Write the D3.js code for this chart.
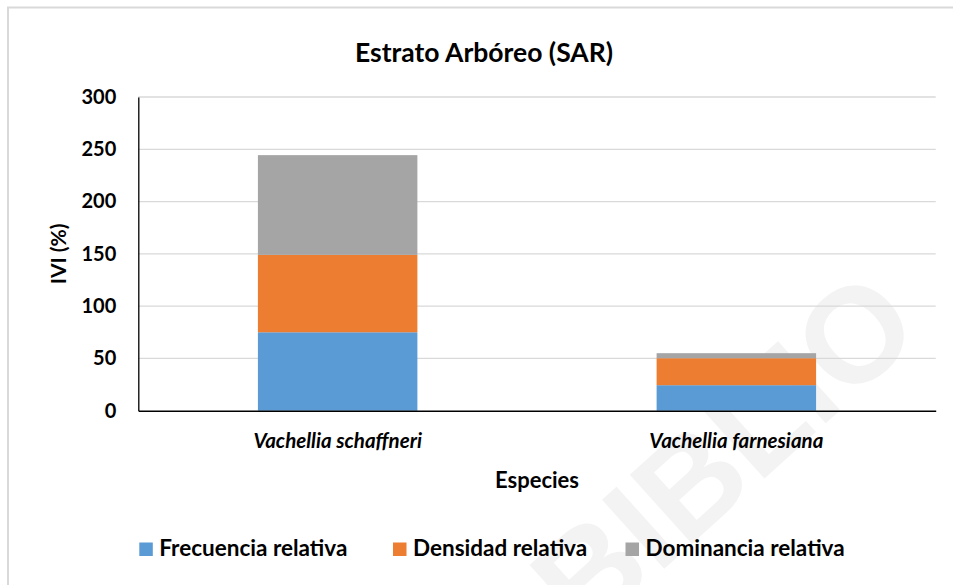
<!DOCTYPE html>
<html>
<head>
<meta charset="utf-8">
<script src="https://cdn.jsdelivr.net/npm/d3@7"></script>
<style>
  html, body { margin: 0; padding: 0; background: #ffffff; }
  svg { display: block; }
  text { font-family: Lato, "Open Sans", sans-serif; font-weight: 700; fill: #000; }
</style>
</head>
<body>
<svg id="chart" width="953" height="585"></svg>
<script>
// Importance value index (IVI) per species, tree stratum
const species = ["Vachellia schaffneri", "Vachellia farnesiana"];
const frecuencia = [75.0, 24.4];
const densidad = [74.0, 25.8];
const dominancia = [95.4, 4.8];
const seriesNames = ["Frecuencia relativa", "Densidad relativa", "Dominancia relativa"];
const seriesColors = ["#5b9bd5", "#ed7d31", "#a5a5a5"];
const yTicks = [0, 50, 100, 150, 200, 250, 300];

const svg = d3.select("#chart");
const W = 953, H = 585;

svg.append("rect").attr("width", W).attr("height", H).attr("fill", "#fff");

// faint diagonal watermark
svg.append("text")
  .attr("transform", "translate(585,640) rotate(-42)")
  .attr("font-size", 135)
  .style("fill", "#f3f3f3")
  .style("font-family", "'Liberation Sans', sans-serif")
  .style("font-weight", 700)
  .text("BIBLIO");

// chart frame
svg.append("rect")
  .attr("x", 8).attr("y", 7.5)
  .attr("width", 980).attr("height", 600)
  .attr("fill", "none")
  .attr("stroke", "#d9d9d9")
  .attr("stroke-width", 2);

const plot = { left: 138.3, right: 935.7, top: 97, bottom: 410.7 };

const x = d3.scaleBand()
  .domain(species)
  .range([plot.left, plot.right])
  .paddingInner(0.6)
  .paddingOuter(0.3);

const y = d3.scaleLinear()
  .domain([0, 300])
  .range([plot.bottom, plot.top]);

// gridlines
svg.append("g")
  .selectAll("line")
  .data(yTicks.filter(d => d > 0))
  .join("line")
  .attr("x1", plot.left).attr("x2", plot.right)
  .attr("y1", d => y(d)).attr("y2", d => y(d))
  .attr("stroke", "#d9d9d9")
  .attr("stroke-width", 1.3);

// stacked bars
const table = species.map((s, i) => ({
  species: s,
  "Frecuencia relativa": frecuencia[i],
  "Densidad relativa": densidad[i],
  "Dominancia relativa": dominancia[i]
}));
const stacked = d3.stack().keys(seriesNames)(table);
const color = d3.scaleOrdinal().domain(seriesNames).range(seriesColors);

svg.append("g")
  .selectAll("g")
  .data(stacked)
  .join("g")
  .attr("fill", d => color(d.key))
  .selectAll("rect")
  .data(d => d)
  .join("rect")
  .attr("x", d => x(d.data.species))
  .attr("width", x.bandwidth())
  .attr("y", d => y(d[1]))
  .attr("height", d => y(d[0]) - y(d[1]));

// y axis
const yAxis = svg.append("g")
  .attr("transform", `translate(${plot.left},0)`)
  .call(d3.axisLeft(y).tickValues(yTicks).tickSize(0).tickPadding(22));
yAxis.select(".domain").attr("stroke", "#000").attr("stroke-width", 1.3);
yAxis.selectAll("text")
  .attr("font-size", 20)
  .style("font-family", "Lato, sans-serif")
  .style("font-weight", 700)
  .attr("fill", "#000");

// x axis
const xAxis = svg.append("g")
  .attr("transform", `translate(0,${plot.bottom})`)
  .call(d3.axisBottom(x).tickSize(0).tickPadding(23));
xAxis.select(".domain").attr("stroke", "#000").attr("stroke-width", 1.5);
xAxis.selectAll("text")
  .attr("font-size", 20.5)
  .style("font-family", "Lato, sans-serif")
  .style("font-weight", 700)
  .style("font-style", "italic")
  .attr("fill", "#000");

// title
svg.append("text")
  .attr("x", 484).attr("y", 62)
  .attr("text-anchor", "middle")
  .attr("font-size", 26.5)
  .text("Estrato Arbóreo (SAR)");

// axis titles
svg.append("text")
  .attr("x", (plot.left + plot.right) / 2).attr("y", 488)
  .attr("text-anchor", "middle")
  .attr("font-size", 22)
  .text("Especies");

svg.append("text")
  .attr("transform", `translate(66,${(plot.top + plot.bottom) / 2}) rotate(-90)`)
  .attr("text-anchor", "middle")
  .attr("font-size", 21)
  .text("IVI (%)");

// legend
const legendX = [139.3, 393, 625.5];
const legend = svg.append("g")
  .selectAll("g")
  .data(seriesNames)
  .join("g")
  .attr("transform", (d, i) => `translate(${legendX[i]},542.5)`);
legend.append("rect")
  .attr("width", 13.5).attr("height", 13.5)
  .attr("fill", d => color(d));
legend.append("text")
  .attr("x", 20).attr("y", 13.3)
  .attr("font-size", 22.5)
  .text(d => d);
</script>
</body>
</html>
